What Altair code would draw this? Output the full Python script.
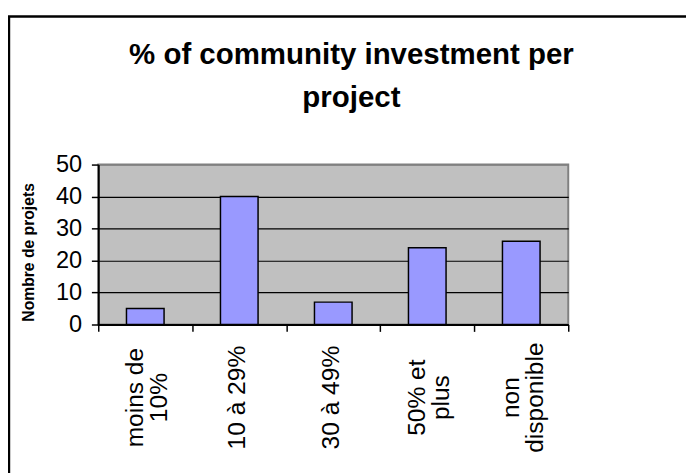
import altair as alt
import pandas as pd

categories = ["moins de 10%", "10 à 29%", "30 à 49%", "50% et plus", "non disponible"]
values = [5, 40, 7, 24, 26]
label_lines = {
    "moins de 10%": ["moins de", "10%"],
    "50% et plus": ["50% et", "plus"],
    "non disponible": ["non", "disponible"],
}
y_ticks = [0, 10, 20, 30, 40, 50]
title_lines = ["% of community investment per", "project"]
y_title = "Nombre de projets"

df = pd.DataFrame({"cat": categories, "n": values})

expr = "datum.label"
for k, lines in label_lines.items():
    arr = "[" + ", ".join("'" + s + "'" for s in lines) + "]"
    expr = f"datum.value == '{k}' ? {arr} : ({expr})"
multi_test = " || ".join(f"datum.value == '{k}'" for k in label_lines)

FONT = "Liberation Sans"

x_enc = alt.X(
    "cat:N",
    sort=categories,
    title=None,
    scale=alt.Scale(paddingInner=0, paddingOuter=0),
    axis=alt.Axis(
        labelAngle=270,
        labelAlign="center",
        labelBaseline="middle",
        labelPadding=67,
        labelOffset={"condition": {"test": multi_test, "value": -11}, "value": -3},
        labelFontSize=25,
        labelFont=FONT,
        labelColor="black",
        labelLineHeight=25,
        labelExpr=expr,
        ticks=True,
        tickBand="extent",
        tickSize=7,
        tickColor="black",
        tickWidth=1.5,
        domainColor="black",
        domainWidth=2,
        grid=False,
    ),
)

y_enc = alt.Y(
    "n:Q",
    scale=alt.Scale(domain=[0, 50]),
    axis=alt.Axis(
        values=y_ticks,
        title=y_title,
        titleFont=FONT,
        titleFontSize=16,
        titleFontWeight="bold",
        titleColor="black",
        titleAngle=270,
        titleAlign="center",
        titleBaseline="middle",
        titleX=-71,
        titleY=89,
        labelFont=FONT,
        labelFontSize=24,
        labelColor="black",
        labelPadding=10,
        tickSize=7,
        tickColor="black",
        tickWidth=1.5,
        domainColor="black",
        domainWidth=2,
        grid=True,
        gridColor={"condition": {"test": "datum.value == 50", "value": "#808080"}, "value": "black"},
        gridWidth=1.2,
    ),
)

bars = alt.Chart(df).mark_bar(
    width=alt.RelativeBandSize(0.4),
    color="#9999FF",
    stroke="black",
    strokeWidth=1.5,
).encode(x=x_enc, y=y_enc)

one = alt.Data(values=[{"a": 1}])

frame = alt.Chart(one).mark_rect(
    filled=False, stroke="black", strokeWidth=2.5
).encode(
    x=alt.value(-91), x2=alt.value(700), y=alt.value(-151), y2=alt.value(420)
)

title = alt.Chart(one).mark_text(
    font=FONT,
    fontSize=30,
    fontWeight="bold",
    color="black",
    align="center",
    baseline="alphabetic",
    lineHeight=43,
).encode(
    x=alt.value(258), y=alt.value(-102), text=alt.value(title_lines)
)

chart = alt.layer(bars, frame, title).properties(
    width=479,
    height=163,
    autosize=alt.AutoSizeParams(type="none"),
    padding={"left": 92, "top": 155, "right": 120, "bottom": 160},
    background="white",
).configure_view(
    fill="#C0C0C0",
    stroke="#808080",
    strokeWidth=2,
)

chart.save("out.html", embed_options={"renderer": "svg", "actions": False})
